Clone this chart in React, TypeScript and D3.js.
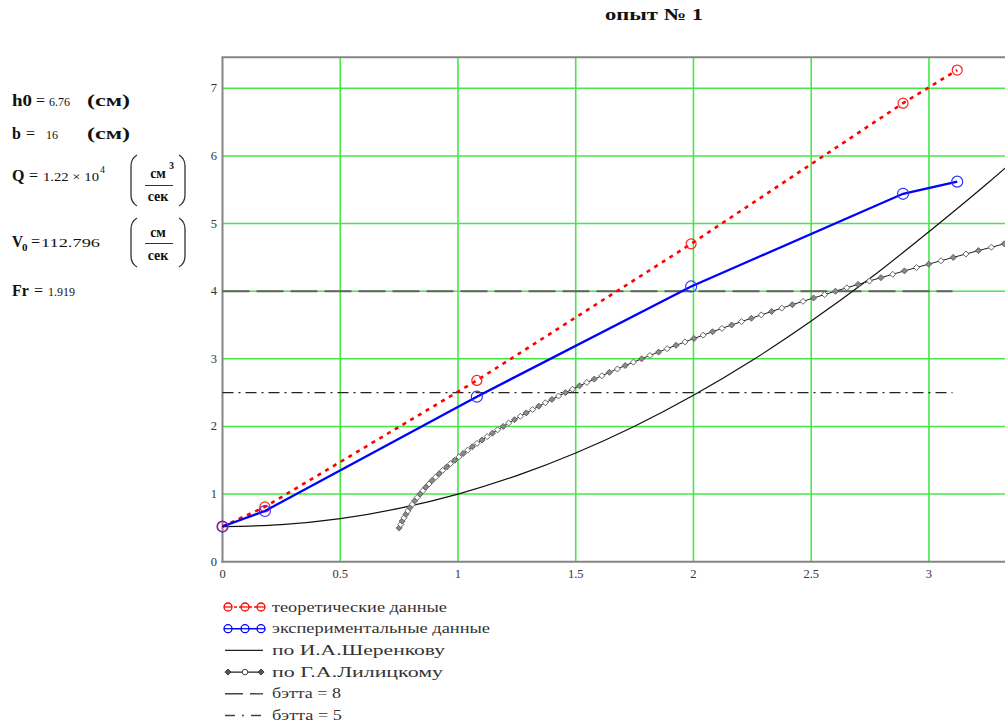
import React from "react";
import * as d3 from "d3";

const W = 1005;
const H = 722;

// Measurement points (x in m, depth in cm-scale units)
const pointX = [0, 0.18, 1.08, 1.99, 2.89, 3.12];
const theoryY = [0.52, 0.81, 2.68, 4.7, 6.78, 7.27];
const measuredY = [0.52, 0.75, 2.44, 4.07, 5.44, 5.62];

// Curve after I.A. Sherenkov
const sherenkovX = [0, 0.25, 0.5, 0.75, 1.0, 1.25, 1.5, 1.75, 2.0, 2.25, 2.5, 2.75, 3.0, 3.25, 3.5];
const sherenkovY = [0.52, 0.548, 0.637, 0.788, 1.0, 1.273, 1.608, 2.003, 2.46, 2.978, 3.558, 4.19, 4.88, 5.6, 6.36];

// Curve after G.A. Lilitsky (computed in depth steps)
const lilitskyY = [
  0.5, 0.55, 0.6, 0.65, 0.7, 0.75, 0.8, 0.85, 0.9, 0.95,
  1.0, 1.05, 1.1, 1.15, 1.2, 1.25, 1.3, 1.35, 1.4, 1.45,
  1.5, 1.55, 1.6, 1.65, 1.7, 1.75, 1.8, 1.85, 1.9, 1.95,
  2.0, 2.05, 2.1, 2.15, 2.2, 2.25, 2.3, 2.35, 2.4, 2.45,
  2.5, 2.55, 2.6, 2.65, 2.7, 2.75, 2.8, 2.85, 2.9, 2.95,
  3.0, 3.05, 3.1, 3.15, 3.2, 3.25, 3.3, 3.35, 3.4, 3.45,
  3.5, 3.55, 3.6, 3.65, 3.7, 3.75, 3.8, 3.85, 3.9, 3.95,
  4.0, 4.05, 4.1, 4.15, 4.2, 4.25, 4.3, 4.35, 4.4, 4.45,
  4.5, 4.55, 4.6, 4.65, 4.7, 4.75,
];
const lilitskyX = [
  0.75, 0.757, 0.763, 0.771, 0.779, 0.787, 0.796, 0.806, 0.816, 0.827,
  0.839, 0.851, 0.863, 0.877, 0.89, 0.905, 0.92, 0.935, 0.952, 0.968,
  0.986, 1.004, 1.022, 1.041, 1.061, 1.081, 1.102, 1.124, 1.146, 1.168,
  1.192, 1.215, 1.24, 1.265, 1.29, 1.317, 1.343, 1.371, 1.399, 1.427,
  1.456, 1.486, 1.516, 1.547, 1.579, 1.611, 1.643, 1.677, 1.71, 1.745,
  1.78, 1.815, 1.852, 1.888, 1.926, 1.964, 2.002, 2.041, 2.081, 2.121,
  2.162, 2.204, 2.246, 2.288, 2.332, 2.375, 2.42, 2.465, 2.51, 2.557,
  2.603, 2.651, 2.699, 2.747, 2.796, 2.846, 2.896, 2.947, 2.999, 3.051,
  3.103, 3.157, 3.21, 3.265, 3.32, 3.375,
];

// Reference depth levels
const betta8Level = 4;
const betta5Level = 2.5;
const bettaSpan = [0, 3.1];

const xTicks = [0, 0.5, 1, 1.5, 2, 2.5, 3];
const xTickLabels = ["0", "0.5", "1", "1.5", "2", "2.5", "3"];
const yTicks = [0, 1, 2, 3, 4, 5, 6, 7];
const yTickLabels = ["0", "1", "2", "3", "4", "5", "6", "7"];

const legendLabels = [
  "теоретические данные",
  "экспериментальные данные",
  "по И.А.Шеренкову",
  "по Г.А.Лилицкому",
  "бэтта = 8",
  "бэтта = 5",
];
const legendWidths = [175, 218, 173, 171, 69, 70];

const SERIF = "'Liberation Serif', 'Times New Roman', serif";
const GRID = "#46e846";
const AXIS = "#858585";

type P = [number, number];

function diamond(cx: number, cy: number, r: number) {
  return `M${cx},${cy - r}L${cx + r},${cy}L${cx},${cy + r}L${cx - r},${cy}Z`;
}

function Paren({ x0, x1, y0, y1 }: { x0: number; x1: number; y0: number; y1: number }) {
  const c = 7;
  const l = `M${x0 + 6},${y0} C${x0 + 1},${y0 + 3} ${x0},${y0 + c} ${x0},${y0 + c + 4} L${x0},${y1 - c - 4} C${x0},${y1 - c} ${x0 + 1},${y1 - 3} ${x0 + 6},${y1}`;
  const r = `M${x1 - 6},${y0} C${x1 - 1},${y0 + 3} ${x1},${y0 + c} ${x1},${y0 + c + 4} L${x1},${y1 - c - 4} C${x1},${y1 - c} ${x1 - 1},${y1 - 3} ${x1 - 6},${y1}`;
  return (
    <g fill="none" stroke="#333" strokeWidth={1.3}>
      <path d={l} />
      <path d={r} />
    </g>
  );
}

export default function App() {
  const x = d3.scaleLinear().domain([0, 3.5]).range([222.5, 1046.7]);
  const y = d3.scaleLinear().domain([0, 7.46]).range([561.7, 57.2]);

  const straight = d3
    .line<P>()
    .x((d) => x(d[0]))
    .y((d) => y(d[1]));
  const smooth = d3
    .line<P>()
    .x((d) => x(d[0]))
    .y((d) => y(d[1]))
    .curve(d3.curveCatmullRom);

  const theory: P[] = pointX.map((v, i) => [v, theoryY[i]]);
  const measured: P[] = pointX.map((v, i) => [v, measuredY[i]]);
  const sherenkov: P[] = sherenkovX.map((v, i) => [v, sherenkovY[i]]);
  const lilitsky: P[] = lilitskyX.map((v, i) => [v, lilitskyY[i]]);

  const [x0, x1] = x.range();
  const [yb, yt] = y.range();

  const legendTop = 607;
  const legendStep = 21.7;

  return (
    <svg
      width={W}
      height={H}
      style={{ position: "absolute", left: 0, top: 0, background: "#fff" }}
      fontFamily={SERIF}
    >
      <rect x={0} y={0} width={W} height={H} fill="#fff" />

      {/* title */}
      <text x={605} y={20} fontSize={17} fontWeight="bold" textLength={98} lengthAdjust="spacingAndGlyphs" fill="#111">
        опыт № 1
      </text>

      {/* parameters block */}
      <g fill="#111">
        <text x={12} y={106} fontSize={16} fontWeight="bold" textLength={20} lengthAdjust="spacingAndGlyphs">h0</text>
        <text x={36} y={106} fontSize={16}>=</text>
        <text x={49} y={106} fontSize={12}>6.76</text>
        <text x={87} y={106} fontSize={16} fontWeight="bold" textLength={43} lengthAdjust="spacingAndGlyphs">(см)</text>

        <text x={12} y={139} fontSize={16} fontWeight="bold">b</text>
        <text x={26} y={139} fontSize={16}>=</text>
        <text x={46} y={139} fontSize={12}>16</text>
        <text x={87} y={139} fontSize={16} fontWeight="bold" textLength={43} lengthAdjust="spacingAndGlyphs">(см)</text>

        <text x={12} y={181} fontSize={16} fontWeight="bold">Q</text>
        <text x={29} y={181} fontSize={16}>=</text>
        <text x={43} y={181} fontSize={12} textLength={56} lengthAdjust="spacingAndGlyphs">1.22 × 10</text>
        <text x={100} y={173} fontSize={10}>4</text>
        <Paren x0={131} x1={185} y0={155} y1={206} />
        <text x={158} y={178} fontSize={14} fontWeight="bold" textAnchor="middle">см</text>
        <text x={169} y={169} fontSize={10} fontWeight="bold">3</text>
        <line x1={145} x2={173} y1={185.5} y2={185.5} stroke="#333" strokeWidth={1} />
        <text x={158} y={201} fontSize={14} fontWeight="bold" textAnchor="middle">сек</text>

        <text x={12} y={247} fontSize={16} fontWeight="bold" textLength={11} lengthAdjust="spacingAndGlyphs">V</text>
        <text x={22} y={251} fontSize={11} fontWeight="bold">0</text>
        <text x={31} y={247} fontSize={16}>=</text>
        <text x={41} y={247} fontSize={12} textLength={59} lengthAdjust="spacingAndGlyphs">112.796</text>
        <Paren x0={131} x1={185} y0={218} y1={267} />
        <text x={158} y={237} fontSize={14} fontWeight="bold" textAnchor="middle">см</text>
        <line x1={145} x2={173} y1={243.5} y2={243.5} stroke="#333" strokeWidth={1} />
        <text x={158} y={260} fontSize={14} fontWeight="bold" textAnchor="middle">сек</text>

        <text x={12} y={296} fontSize={16} fontWeight="bold">Fr</text>
        <text x={34} y={296} fontSize={16}>=</text>
        <text x={48} y={296} fontSize={12}>1.919</text>
      </g>

      {/* grid */}
      <g stroke={GRID} strokeWidth={1.6}>
        {xTicks.filter((t) => t > 0).map((t) => (
          <line key={"gx" + t} x1={x(t)} x2={x(t)} y1={yt} y2={yb} />
        ))}
        {yTicks.filter((t) => t > 0).map((t) => (
          <line key={"gy" + t} x1={x0} x2={x1} y1={y(t)} y2={y(t)} />
        ))}
      </g>

      {/* frame */}
      <g stroke={AXIS} strokeWidth={2} fill="none">
        <line x1={x0} x2={x0} y1={yt} y2={yb + 1} />
        <line x1={x0 - 1} x2={x1} y1={yb} y2={yb} />
        <line x1={x0 - 1} x2={x1} y1={yt} y2={yt} />
        <line x1={x1} x2={x1} y1={yt} y2={yb} />
      </g>

      {/* tick labels */}
      <g fontSize={12.5} fill="#333">
        {xTicks.map((t, i) => (
          <text key={"tx" + t} x={x(t)} y={578} textAnchor="middle">{xTickLabels[i]}</text>
        ))}
        {yTicks.map((t, i) => (
          <text key={"ty" + t} x={217} y={y(t) + 4} textAnchor="end">{yTickLabels[i]}</text>
        ))}
      </g>

      {/* reference levels */}
      <line
        x1={x(bettaSpan[0])}
        x2={x(bettaSpan[1])}
        y1={y(betta8Level)}
        y2={y(betta8Level)}
        stroke="#626262"
        strokeWidth={2}
        strokeDasharray="27 7"
      />
      <line
        x1={x(bettaSpan[0])}
        x2={x(bettaSpan[1])}
        y1={y(betta5Level)}
        y2={y(betta5Level)}
        stroke="#222"
        strokeWidth={1.3}
        strokeDasharray="11 5 2 5"
      />

      {/* Sherenkov */}
      <path d={smooth(sherenkov) ?? ""} fill="none" stroke="#111" strokeWidth={1.2} />

      {/* Lilitsky */}
      <path d={straight(lilitsky) ?? ""} fill="none" stroke="#222" strokeWidth={1} />
      <g strokeWidth={0.9}>
        {lilitsky.map((d, i) => (
          <path
            key={"lm" + i}
            d={diamond(x(d[0]), y(d[1]), 3)}
            fill={i % 2 === 0 ? "#8a8a8a" : "#fff"}
            stroke="#555"
          />
        ))}
      </g>

      {/* theoretical */}
      <path d={straight(theory) ?? ""} fill="none" stroke="#ff0000" strokeWidth={2.6} strokeDasharray="4 5" />
      {theory.map((d, i) => (
        <circle key={"tc" + i} cx={x(d[0])} cy={y(d[1])} r={5} fill="none" stroke="#ff2020" strokeWidth={1.2} />
      ))}

      {/* measured */}
      <path d={straight(measured) ?? ""} fill="none" stroke="#0000ff" strokeWidth={2.3} />
      {measured.map((d, i) => (
        <circle key={"mc" + i} cx={x(d[0])} cy={y(d[1])} r={5.5} fill="none" stroke="#3030ff" strokeWidth={1.2} />
      ))}

      {/* legend */}
      <g>
        {legendLabels.map((label, i) => {
          const ly = legendTop + i * legendStep;
          let sample: React.ReactNode = null;
          if (i === 0 || i === 1) {
            const col = i === 0 ? "#ff0000" : "#0000ff";
            sample = (
              <g>
                <line x1={224} x2={263} y1={ly} y2={ly} stroke={col} strokeWidth={1.6} strokeDasharray={i === 0 ? "3 2" : undefined} />
                {[228, 245, 261].map((cx) => (
                  <circle key={cx} cx={cx} cy={ly} r={4} fill="#fff" stroke={col} strokeWidth={1.3} />
                ))}
                {[228, 245, 261].map((cx) => (
                  <line key={"h" + cx} x1={cx - 4} x2={cx + 4} y1={ly} y2={ly} stroke={col} strokeWidth={1.2} />
                ))}
              </g>
            );
          } else if (i === 2) {
            sample = <line x1={225} x2={263} y1={ly} y2={ly} stroke="#222" strokeWidth={1.3} />;
          } else if (i === 3) {
            sample = (
              <g>
                <line x1={225} x2={263} y1={ly} y2={ly} stroke="#222" strokeWidth={1.2} />
                <path d={diamond(228, ly, 3)} fill="#555" stroke="#333" strokeWidth={0.9} />
                <circle cx={245} cy={ly} r={2.8} fill="#fff" stroke="#444" strokeWidth={1} />
                <path d={diamond(261, ly, 3)} fill="#555" stroke="#333" strokeWidth={0.9} />
              </g>
            );
          } else if (i === 4) {
            sample = <line x1={225} x2={263} y1={ly} y2={ly} stroke="#444" strokeWidth={1.4} strokeDasharray="18 7" />;
          } else {
            sample = <line x1={225} x2={263} y1={ly} y2={ly} stroke="#444" strokeWidth={1.4} strokeDasharray="10 7 2 7" />;
          }
          return (
            <g key={label}>
              {sample}
              <text
                x={272}
                y={ly + 4.5}
                fontSize={14}
                fill="#333"
                textLength={legendWidths[i]}
                lengthAdjust="spacingAndGlyphs"
              >
                {label}
              </text>
            </g>
          );
        })}
      </g>
    </svg>
  );
}
